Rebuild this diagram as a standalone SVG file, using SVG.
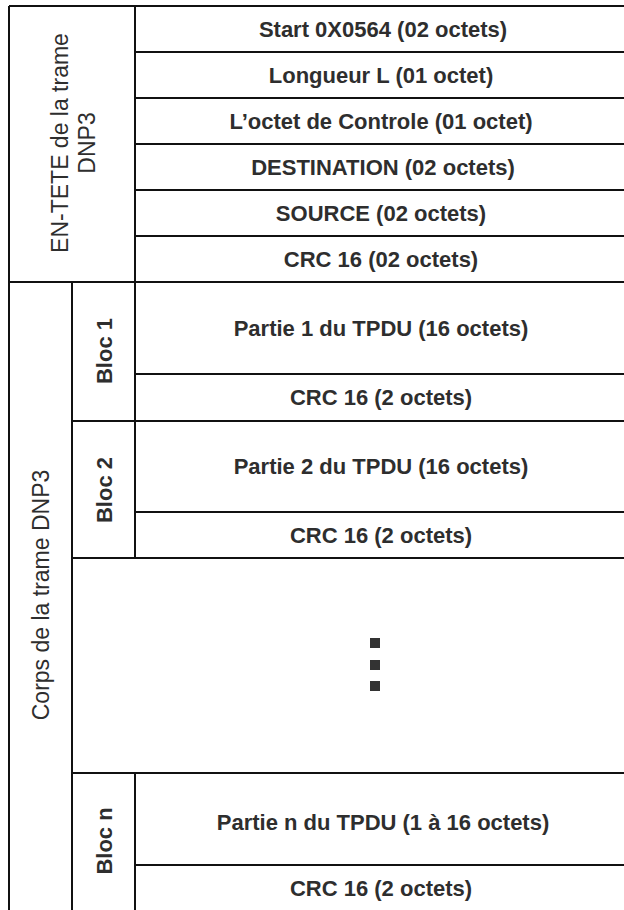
<svg xmlns="http://www.w3.org/2000/svg" width="624" height="910" viewBox="0 0 624 910">
<style>
.ln{stroke:#111;stroke-width:2;fill:none}
.t{font-family:"Liberation Sans",Arial,sans-serif;font-size:22px;font-weight:bold;fill:#2e2e2e;text-anchor:middle}
.r{font-family:"Liberation Sans",Arial,sans-serif;font-size:23px;fill:#2e2e2e;text-anchor:middle}
.dot{fill:#333}
</style>
<rect x="0" y="0" width="624" height="910" fill="#fff"/>
<g id="connectors">
<path class="ln" d="M9,6H624 M9,6V910 M135,6V558 M135,773V910 M9,282H624 M72,282V910"/>
<path class="ln" d="M135,52H624 M135,98H624 M135,144H624 M135,190H624 M135,236H624"/>
<path class="ln" d="M135,374H624 M72,421H624 M135,512H624 M72,558H624 M72,773H624 M135,865H624"/>
</g>
<g id="entete"><text class="r" transform="translate(68,143) rotate(-90)">EN-TETE de la trame</text><text class="r" transform="translate(95,143) rotate(-90)">DNP3</text></g>
<g id="corps"><text class="r" transform="translate(49,595) rotate(-90)">Corps de la trame DNP3</text></g>
<g id="bloc1"><text class="t" transform="translate(112,351) rotate(-90)">Bloc 1</text></g>
<g id="bloc2"><text class="t" transform="translate(112,490) rotate(-90)">Bloc 2</text></g>
<g id="blocn"><text class="t" transform="translate(112,841) rotate(-90)">Bloc n</text></g>
<g id="start"><text class="t" x="383" y="37">Start 0X0564 (02 octets)</text></g>
<g id="longueur"><text class="t" x="381" y="83">Longueur L (01 octet)</text></g>
<g id="controle"><text class="t" x="381" y="129">L’octet de Controle (01 octet)</text></g>
<g id="destination"><text class="t" x="383" y="175">DESTINATION (02 octets)</text></g>
<g id="source"><text class="t" x="381" y="221">SOURCE (02 octets)</text></g>
<g id="crc-header"><text class="t" x="381" y="267">CRC 16 (02 octets)</text></g>
<g id="partie1"><text class="t" x="381" y="336">Partie 1 du TPDU (16 octets)</text></g>
<g id="crc1"><text class="t" x="381" y="405">CRC 16 (2 octets)</text></g>
<g id="partie2"><text class="t" x="381" y="474">Partie 2 du TPDU (16 octets)</text></g>
<g id="crc2"><text class="t" x="381" y="543">CRC 16 (2 octets)</text></g>
<g id="ellipsis"><rect class="dot" x="370" y="638" width="10" height="10"/><rect class="dot" x="370" y="660" width="10" height="10"/><rect class="dot" x="370" y="681" width="10" height="10"/></g>
<g id="partien"><text class="t" x="383" y="830">Partie n du TPDU (1 à 16 octets)</text></g>
<g id="crcn"><text class="t" x="381" y="896">CRC 16 (2 octets)</text></g>
</svg>
